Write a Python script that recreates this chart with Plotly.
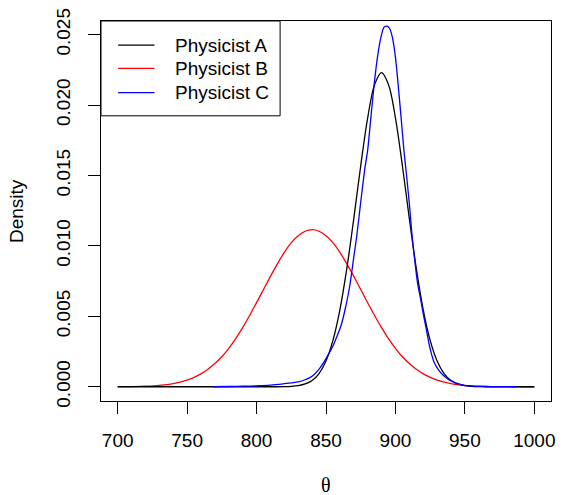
import plotly.graph_objects as go

# Posterior densities of theta for three physicists
theta_a = [700, 800, 815, 820, 825, 830, 835, 840, 845, 850, 855, 860, 865, 870, 875, 880,
           885, 890, 895, 900, 905, 910, 915, 920, 925, 930, 935, 940, 945, 950, 955, 960,
           965, 980, 1000]
dens_a = [0.0, 0.0, 0.000003, 0.00001, 0.00003, 0.00008, 0.0002, 0.00045, 0.00094, 0.00183,
          0.00329, 0.00546, 0.0084, 0.01194, 0.01569, 0.01908, 0.02145, 0.0223, 0.02145,
          0.01908, 0.01569, 0.01194, 0.0084, 0.00546, 0.00329, 0.00183, 0.00094, 0.00045,
          0.0002, 0.00008, 0.00003, 0.00001, 0.000003, 0.0, 0.0]

theta_b = [700, 710, 720, 730, 740, 750, 755, 760, 765, 770, 775, 780, 785, 790, 795, 800,
           805, 810, 815, 820, 825, 830, 835, 840, 845, 850, 855, 860, 865, 870, 875, 880,
           885, 890, 895, 900, 905, 910, 915, 920, 930, 940, 950, 960, 970, 980, 990, 1000]
dens_b = [0.000005, 0.000015, 0.00004, 0.0001, 0.000224, 0.000471, 0.000662, 0.000915,
          0.001243, 0.001645, 0.002133, 0.00273, 0.00342, 0.0042, 0.00506, 0.00597, 0.00691,
          0.00784, 0.00873, 0.00954, 0.01023, 0.01072, 0.01104, 0.01115, 0.01104, 0.01072,
          0.01023, 0.00954, 0.00873, 0.00784, 0.00691, 0.00597, 0.00506, 0.0042, 0.00342,
          0.00273, 0.002133, 0.001645, 0.001243, 0.000915, 0.000471, 0.000224, 0.0001,
          0.00004, 0.000015, 0.000005, 0.0000015, 0.0000005]

theta_c = [769, 780, 790, 800, 810, 820, 825, 830, 835, 840, 845, 850, 855, 858, 861, 864,
           867, 870, 872, 875, 878, 880, 882, 884, 886, 888, 890, 892, 894, 896, 898, 900,
           902, 904, 906, 908, 910, 912, 914, 916, 918, 920, 922, 925, 928, 931, 934, 939,
           944, 948, 955, 965, 975, 987]
dens_c = [0.0, 0.00002, 0.00004, 0.00007, 0.00012, 0.00022, 0.00028, 0.00034, 0.0005,
          0.00075, 0.00125, 0.002, 0.0029, 0.0036, 0.0044, 0.0056, 0.0071, 0.0092, 0.0106,
          0.0131, 0.0155, 0.0168, 0.0188, 0.0208, 0.0226, 0.024, 0.025, 0.02555, 0.0256,
          0.0254, 0.0247, 0.0234, 0.0214, 0.0192, 0.0169, 0.015, 0.013, 0.0107, 0.0089,
          0.0073, 0.0063, 0.0052, 0.0042, 0.0027, 0.0017, 0.0012, 0.00085, 0.00047,
          0.00025, 0.00012, 0.00005, 0.00002, 0.00001, 0.0]

x_ticks = [700, 750, 800, 850, 900, 950, 1000]
y_ticks = [0.0, 0.005, 0.010, 0.015, 0.020, 0.025]
legend_labels = ["Physicist A", "Physicist B", "Physicist C"]
colors = ["black", "#FF0000", "#0000FF"]

FONT = "Liberation Sans, Arial, Helvetica, sans-serif"

fig = go.Figure()
# Drawing order: B underneath, then A, then C on top
for xs, ys, col, name in [(theta_b, dens_b, colors[1], legend_labels[1]),
                          (theta_a, dens_a, colors[0], legend_labels[0]),
                          (theta_c, dens_c, colors[2], legend_labels[2])]:
    fig.add_trace(go.Scatter(x=xs, y=ys, mode="lines", name=name,
                             line=dict(color=col, width=1.3, shape="spline", smoothing=1.0),
                             showlegend=False, hoverinfo="skip"))

fig.update_xaxes(range=[688, 1012], tickvals=x_ticks, ticktext=[str(v) for v in x_ticks],
                 ticks="outside", ticklen=12, tickwidth=1, tickcolor="black",
                 showline=True, linecolor="black", linewidth=1, mirror=True,
                 showgrid=False, zeroline=False, ticklabelstandoff=10,
                 tickfont=dict(family=FONT, size=19, color="black"))
fig.update_yaxes(range=[-0.00101, 0.025967], tickvals=y_ticks,
                 ticktext=["%.3f" % v for v in y_ticks], tickangle=-90,
                 ticks="outside", ticklen=12, tickwidth=1, tickcolor="black",
                 showline=True, linecolor="black", linewidth=1, mirror=True,
                 showgrid=False, zeroline=False, ticklabelstandoff=10,
                 tickfont=dict(family=FONT, size=19, color="black"))

# Legend box drawn in paper coordinates
lx0, lx1, ly0, ly1 = 0.0, 0.398, 0.7505, 1.0
shapes = [dict(type="rect", xref="paper", yref="paper", x0=lx0, x1=lx1, y0=ly0, y1=ly1,
               line=dict(color="black", width=1), fillcolor="white", layer="above")]
row_y = [0.9364, 0.8751, 0.8115]
annotations = []
for ry, col, lab in zip(row_y, colors, legend_labels):
    shapes.append(dict(type="line", xref="paper", yref="paper", x0=0.0381, x1=0.1189,
                       y0=ry, y1=ry, line=dict(color=col, width=1.3), layer="above"))
    annotations.append(dict(xref="paper", yref="paper", x=0.1593, y=ry, text=lab,
                            showarrow=False, xanchor="left", yanchor="middle",
                            font=dict(family=FONT, size=19, color="black")))

annotations.append(dict(xref="paper", yref="paper", x=0.5, y=0, yshift=-84,
                        text="θ", showarrow=False, xanchor="center", yanchor="middle",
                        font=dict(family="Liberation Serif, DejaVu Serif, serif",
                                  size=20, color="black")))
annotations.append(dict(xref="paper", yref="paper", x=0, y=0.5, xshift=-85,
                        text="Density", textangle=-90, showarrow=False,
                        xanchor="center", yanchor="middle",
                        font=dict(family=FONT, size=19, color="black")))

fig.update_layout(width=563, height=495,
                  margin=dict(l=101, r=8, t=19, b=94, pad=0),
                  paper_bgcolor="white", plot_bgcolor="white",
                  shapes=shapes, annotations=annotations, showlegend=False)

fig.write_html("out.html")
